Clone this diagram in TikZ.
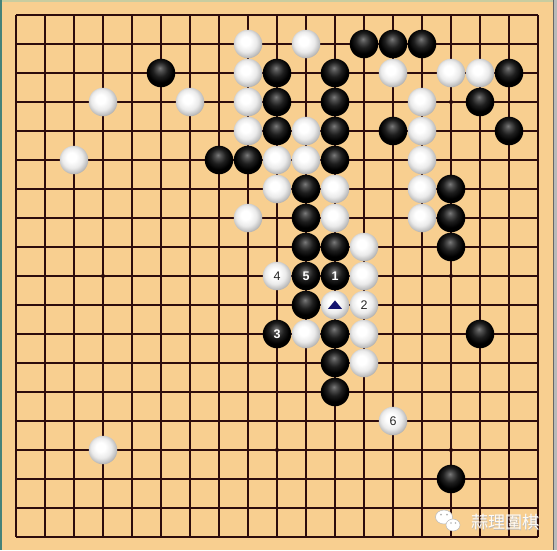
\documentclass[tikz,border=0pt]{standalone}
\usepackage{fontspec}
\setmainfont{Liberation Sans}
\newfontfamily\cjk{Noto Sans CJK TC}
\usetikzlibrary{calc}
\definecolor{wood}{RGB}{248,207,144}
\definecolor{gridc}{RGB}{45,12,12}
\definecolor{tealedge}{RGB}{70,130,120}
\definecolor{topedge}{RGB}{200,205,160}
\definecolor{navy}{RGB}{20,20,110}
\pgfdeclareradialshading{wstone}{\pgfpoint{-5bp}{6bp}}{%
  color(0bp)=(white); color(8bp)=(white); color(18bp)=(black!8);
  color(25bp)=(black!24); color(31bp)=(black!40); color(50bp)=(black!45)}
\pgfdeclareradialshading{bstone}{\pgfpoint{-2bp}{9bp}}{%
  color(0bp)=(black!52); color(5bp)=(black!68); color(13bp)=(black!88);
  color(22bp)=(black); color(50bp)=(black)}
\tikzset{
  gridline/.style={draw=gridc, line width=1.15pt},
  starpt/.style={circle, fill=gridc, inner sep=0pt, minimum size=4.2pt},
  wst/.style={circle, inner sep=0pt, minimum size=28.5pt, shade, shading=wstone},
  bst/.style={circle, inner sep=0pt, minimum size=28.5pt, shade, shading=bstone},
  wnum/.style={wst, text=black!85, font=\fontsize{12.5}{12.5}\selectfont},
  bnum/.style={bst, text=white, font=\bfseries\fontsize{12.5}{12.5}\selectfont},
}
\begin{document}
\begin{tikzpicture}[x=29pt, y=-29pt]
\useasboundingbox (-16pt,15pt) rectangle (541pt,-535pt);
% board
\fill[wood] (-16pt,15pt) rectangle (541pt,-535pt);
\fill[tealedge] (-16pt,15pt) rectangle (-14pt,-535pt);
\fill[topedge] (-14pt,15pt) rectangle (541pt,13pt);
\fill[gray!55] (537pt,15pt) rectangle (541pt,-535pt);
\draw[black!60, line width=0.8pt] (537pt,15pt) -- (537pt,-535pt);
% grid
\foreach \i in {0,...,18} {
  \draw[gridline] (\i,0) -- (\i,18);
  \draw[gridline] (0,\i) -- (18,\i);
}
\foreach \a in {3,9,15} \foreach \b in {3,9,15}
  \node[starpt] (s-\a-\b) at (\a,\b) {};
% white stones
\foreach \c/\r in {9/2,11/2,9/3,14/3,16/3,17/3,4/4,7/4,9/4,15/4,9/5,11/5,15/5,
  3/6,10/6,11/6,15/6,10/7,12/7,15/7,9/8,12/8,15/8,13/9,13/10,
  11/12,13/12,13/13,4/16}
  \node[wst] (w-\c-\r) at ({\c-1},{\r-1}) {};
% black stones
\foreach \c/\r in {13/2,14/2,15/2,6/3,10/3,12/3,18/3,10/4,12/4,17/4,10/5,12/5,14/5,18/5,
  8/6,9/6,12/6,11/7,16/7,11/8,16/8,11/9,12/9,16/9,11/11,12/12,17/12,12/13,12/14,16/17}
  \node[bst] (b-\c-\r) at ({\c-1},{\r-1}) {};
% numbered stones
\node[bnum] (m1) at (11,9) {1};
\node[wnum] (m2) at (12,10) {2};
\node[bnum] (m3) at (9,11) {3};
\node[wnum] (m4) at (9,9) {4};
\node[bnum] (m5) at (10,9) {5};
\node[wnum] (m6) at (13,14) {6};
% marked stone
\node[wst] (mk) at (11,10) {};
\fill[navy] ($(mk.center)+(-7pt,-3.8pt)$) -- ($(mk.center)+(7pt,-3.8pt)$) -- ($(mk.center)+(0pt,4.6pt)$) -- cycle;
% watermark
\begin{scope}[shift={(-16pt,15pt)}]
  \fill[white, draw=gray!55, line width=0.5pt] (444pt,-517pt) ellipse (8.5pt and 7pt);
  \fill[white, draw=gray!55, line width=0.5pt] (453pt,-525pt) ellipse (7pt and 6pt);
  \fill[gray!60] (441pt,-514.5pt) circle (1pt) (447pt,-514.5pt) circle (1pt);
  \fill[gray!60] (451pt,-523pt) circle (0.8pt) (455.5pt,-523pt) circle (0.8pt);
  \node[text=gray!55, font=\cjk\fontsize{17}{17}\selectfont, inner sep=0pt] (wms) at (505.6pt,-522.6pt) {蒜理圍棋};
  \node[text=white!92!wood, font=\cjk\fontsize{17}{17}\selectfont, inner sep=0pt] (wm) at (505pt,-522pt) {蒜理圍棋};
\end{scope}
\end{tikzpicture}
\end{document}
